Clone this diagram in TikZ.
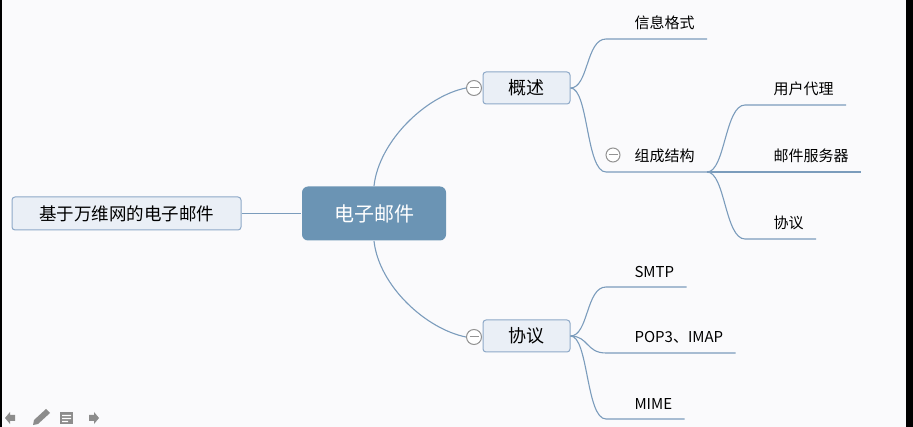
\documentclass[tikz,border=0pt]{standalone}
\usepackage{fontspec}
\setmainfont{Noto Sans CJK SC}
\usetikzlibrary{shapes.misc}
\definecolor{mapline}{HTML}{7B9CBC}
\definecolor{boxedge}{HTML}{8EA9C8}
\definecolor{boxfill}{HTML}{EAEFF6}
\definecolor{centralblue}{HTML}{6B94B4}
\definecolor{paper}{HTML}{FAFAFC}
\definecolor{toolgray}{HTML}{8C8C8C}

\begin{document}
\begin{tikzpicture}
[x=1pt, y=-1pt, line width=1.1pt,
central/.style={rectangle, rounded corners=6pt, fill=centralblue, text=white, minimum width=144pt, minimum height=54pt, font=\fontsize{20}{24}\selectfont},
topic/.style={rectangle, draw=boxedge, fill=boxfill, rounded corners=3pt, line width=1pt, minimum height=32pt, font=\fontsize{18}{22}\selectfont},
leaf/.style={anchor=south west, inner xsep=12pt, inner ysep=9pt, font=\fontsize{15}{18}\selectfont},
fold/.style={circle, draw=gray!85, fill=white, minimum size=15pt, inner sep=0pt, line width=1pt,
  path picture={\draw[gray!85, line width=1pt] ([xshift=-4.5pt]path picture bounding box.center) -- ([xshift=4.5pt]path picture bounding box.center);}},
branch/.style={draw=mapline, line width=1.1pt}]

% screen
\fill[paper] (0,0) rectangle (913,427);
\fill[black] (0,0) rectangle (1.5,427);
\fill[black] (906,0) rectangle (913,427);
\fill[toolgray] (5,418) -- (10,412) -- (10,415) -- (15,415) -- (15,421) -- (10,421) -- (10,424) -- cycle;
\fill[toolgray] (33,425) -- (34,420) -- (46,409) -- (50,413) -- (38,424) -- cycle;
\fill[toolgray] (60,412) rectangle (73,424);
\fill[white] (62,415) rectangle (71,416.2) (62,418) rectangle (71,419.2) (62,421) rectangle (68,422.2);
\fill[toolgray] (99,418) -- (94,412) -- (94,415) -- (89,415) -- (89,421) -- (94,421) -- (94,424) -- cycle;

% nodes
\node[central] (email) at (374,213.5) {电子邮件};
\node[topic, minimum width=229pt, minimum height=33pt, font=\fontsize{17.5}{21}\selectfont] (web) at (126.5,213.5) {基于万维网的电子邮件};
\node[topic, minimum width=87pt] (overview) at (526.5,88) {概述};
\node[topic, minimum width=87pt] (protocols) at (526.5,336) {协议};
\node[fold] (fold1) at (474,88) {};
\node[fold] (fold2) at (474,337) {};

\node[leaf] (format) at (622,39) {信息格式};
\node[leaf] (structure) at (622,172) {组成结构};
\node[fold, minimum size=14pt] (fold3) at (613,155) {};
\node[leaf] (agent) at (761,105) {用户代理};
\node[leaf] (server) at (761,172) {邮件服务器};
\node[leaf] (proto) at (761,239) {协议};
\node[leaf] (smtp) at (622,287) {SMTP};
\node[leaf] (pop) at (622,353) {POP3、IMAP};
\node[leaf] (mime) at (622,419) {MIME};

% branches
\draw[branch] (web.east) -- (email.west);
\draw[branch] (email.north) .. controls +(5,-45) and +(-40,8) .. (fold1.west);
\draw[branch] (email.south) .. controls +(5,45) and +(-40,-8) .. (fold2.west);

\draw[branch] (overview.east) .. controls +(18,0) and +(-20,0) .. ([xshift=-16pt]format.south west) -- (format.south east);
\draw[branch] (overview.east) .. controls +(18,0) and +(-20,0) .. ([xshift=-16pt]structure.south west) -- (structure.south east);

\draw[branch] (structure.south east) .. controls +(18,0) and +(-20,0) .. ([xshift=-16pt]agent.south west) -- (agent.south east);
\draw[branch] (structure.south east) -- (server.south east);
\draw[branch] (structure.south east) .. controls +(18,0) and +(-20,0) .. ([xshift=-16pt]proto.south west) -- (proto.south east);

\draw[branch] (protocols.east) .. controls +(18,0) and +(-20,0) .. ([xshift=-16pt]smtp.south west) -- (smtp.south east);
\draw[branch] (protocols.east) .. controls +(18,0) and +(-20,0) .. ([xshift=-16pt]pop.south west) -- (pop.south east);
\draw[branch] (protocols.east) .. controls +(18,0) and +(-20,0) .. ([xshift=-16pt]mime.south west) -- (mime.south east);
\end{tikzpicture}
\end{document}
